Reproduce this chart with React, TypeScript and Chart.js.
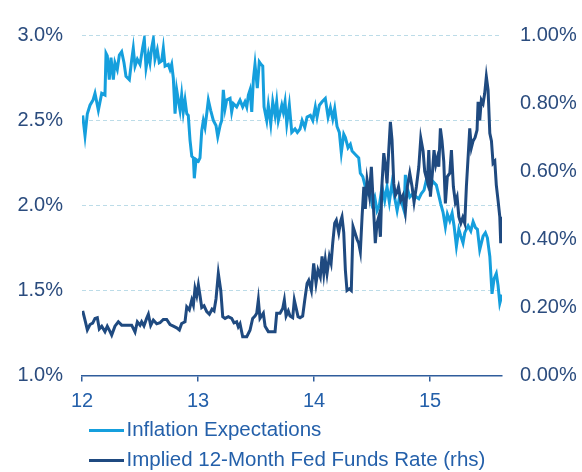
import React, { useEffect, useRef } from "react";
import { Chart, registerables } from "chart.js";

Chart.register(...registerables);

// ---- Data (decimal year, value in %) ----
const inflYears = [
  12.006, 12.026, 12.046, 12.069, 12.095, 12.112, 12.141, 12.17, 12.198, 12.207, 12.218, 12.235, 12.25, 12.27,
  12.284, 12.304, 12.322, 12.342, 12.362, 12.379, 12.408, 12.428, 12.442, 12.457, 12.477, 12.5, 12.523, 12.537,
  12.552, 12.572, 12.586, 12.601, 12.615, 12.629, 12.649, 12.666, 12.687, 12.701, 12.716, 12.744, 12.759, 12.773,
  12.787, 12.802, 12.816, 12.83, 12.845, 12.859, 12.873, 12.888, 12.903, 12.916, 12.931, 12.946, 12.96, 12.968,
  12.983, 13.003, 13.017, 13.032, 13.046, 13.06, 13.075, 13.089, 13.109, 13.132, 13.155, 13.17, 13.19, 13.204,
  13.218, 13.233, 13.247, 13.276, 13.29, 13.304, 13.333, 13.362, 13.385, 13.405, 13.42, 13.434, 13.448, 13.463,
  13.477, 13.491, 13.511, 13.528, 13.543, 13.558, 13.569, 13.592, 13.606, 13.627, 13.644, 13.664, 13.678, 13.692,
  13.722, 13.735, 13.75, 13.765, 13.787, 13.808, 13.836, 13.856, 13.879, 13.897, 13.92, 13.94, 13.968, 13.989,
  14.011, 14.026, 14.046, 14.069, 14.097, 14.121, 14.141, 14.161, 14.178, 14.198, 14.218, 14.235, 14.256, 14.27,
  14.293, 14.313, 14.328, 14.356, 14.385, 14.399, 14.42, 14.442, 14.457, 14.48, 14.5, 14.523, 14.543, 14.563,
  14.586, 14.609, 14.629, 14.649, 14.672, 14.694, 14.716, 14.737, 14.759, 14.776, 14.787, 14.804, 14.825, 14.853,
  14.882, 14.903, 14.925, 14.948, 14.968, 14.997, 15.026, 15.054, 15.075, 15.092, 15.112, 15.132, 15.149, 15.17,
  15.19, 15.207, 15.227, 15.248, 15.265, 15.284, 15.299, 15.328, 15.351, 15.371, 15.391, 15.408, 15.428, 15.457,
  15.477, 15.494, 15.515, 15.534, 15.552, 15.571, 15.586, 15.601, 15.62,
];
const inflValues = [
  2.53, 2.41, 2.54, 2.59, 2.62, 2.66, 2.56, 2.66, 2.65, 2.895, 2.88, 2.74, 2.87, 2.74,
  2.84, 2.8, 2.885, 2.905, 2.84, 2.76, 2.74, 2.855, 2.925, 2.82, 2.86, 2.83, 2.93, 2.98,
  2.81, 2.89, 2.84, 2.93, 2.98, 2.86, 2.915, 2.84, 2.85, 2.925, 2.82, 2.83, 2.8, 2.83,
  2.75, 2.54, 2.68, 2.62, 2.56, 2.65, 2.55, 2.62, 2.54, 2.53, 2.385, 2.29, 2.28, 2.16,
  2.27, 2.26, 2.28, 2.44, 2.5, 2.46, 2.54, 2.62, 2.56, 2.5, 2.47, 2.405, 2.47, 2.5,
  2.68, 2.57, 2.62, 2.63, 2.55, 2.6, 2.58, 2.62, 2.58, 2.61, 2.58, 2.65, 2.68, 2.55,
  2.74, 2.83, 2.69, 2.845, 2.83, 2.82, 2.58, 2.5, 2.59, 2.48, 2.61, 2.53, 2.61, 2.5,
  2.59, 2.55, 2.61, 2.48, 2.59, 2.43, 2.45, 2.43, 2.45, 2.5, 2.46, 2.52, 2.53, 2.5,
  2.58, 2.52, 2.59, 2.61, 2.63, 2.52, 2.575, 2.51, 2.57, 2.465, 2.43, 2.31, 2.42, 2.4,
  2.34, 2.36, 2.32, 2.3, 2.28, 2.19, 2.17, 2.11, 2.07, 2.1, 2.01, 2.05, 1.97, 2.0,
  2.11, 2.03, 2.11, 2.02, 2.13, 2.05, 1.97, 2.05, 2.01, 1.97, 2.18, 2.1, 2.05, 2.07,
  2.05, 2.04, 2.07, 2.09, 2.15, 2.1, 2.14, 2.12, 2.06, 2.01, 1.96, 1.875, 1.95, 1.91,
  1.955, 1.88, 1.76, 1.86, 1.82, 1.78, 1.84, 1.88, 1.85, 1.905, 1.87, 1.86, 1.74, 1.82,
  1.84, 1.81, 1.7, 1.48, 1.57, 1.6, 1.53, 1.425, 1.475,
];

const fedYears = [
  12.006, 12.026, 12.046, 12.069, 12.092, 12.112, 12.132, 12.149, 12.17, 12.198, 12.218, 12.241, 12.256, 12.284,
  12.313, 12.342, 12.385, 12.428, 12.457, 12.477, 12.5, 12.514, 12.534, 12.557, 12.572, 12.592, 12.615, 12.644,
  12.672, 12.701, 12.73, 12.759, 12.787, 12.816, 12.839, 12.859, 12.888, 12.903, 12.925, 12.946, 12.96, 12.974,
  12.989, 13.003, 13.017, 13.032, 13.052, 13.075, 13.098, 13.121, 13.138, 13.155, 13.175, 13.196, 13.213, 13.233,
  13.261, 13.29, 13.31, 13.333, 13.347, 13.362, 13.385, 13.42, 13.448, 13.471, 13.491, 13.506, 13.52, 13.534,
  13.563, 13.578, 13.606, 13.635, 13.664, 13.678, 13.707, 13.73, 13.744, 13.759, 13.778, 13.793, 13.816, 13.83,
  13.851, 13.862, 13.879, 13.902, 13.92, 13.94, 13.954, 13.977, 13.997, 14.017, 14.034, 14.054, 14.069, 14.084,
  14.097, 14.112, 14.132, 14.147, 14.161, 14.178, 14.192, 14.213, 14.23, 14.241, 14.256, 14.27, 14.284, 14.304,
  14.321, 14.336, 14.353, 14.371, 14.385, 14.399, 14.414, 14.429, 14.442, 14.457, 14.477, 14.494, 14.509, 14.528,
  14.543, 14.558, 14.572, 14.586, 14.601, 14.615, 14.629, 14.644, 14.658, 14.672, 14.687, 14.701, 14.716, 14.728,
  14.747, 14.767, 14.787, 14.804, 14.825, 14.845, 14.862, 14.882, 14.903, 14.92, 14.94, 14.954, 14.977, 14.989,
  15.003, 15.02, 15.034, 15.049, 15.063, 15.075, 15.089, 15.103, 15.118, 15.132, 15.149, 15.17, 15.184, 15.201,
  15.218, 15.233, 15.248, 15.265, 15.282, 15.299, 15.313, 15.328, 15.342, 15.356, 15.371, 15.388, 15.405, 15.414,
  15.428, 15.442, 15.457, 15.471, 15.485, 15.5, 15.515, 15.529, 15.543, 15.558, 15.571, 15.586, 15.601, 15.609,
  15.62,
];
const fedValues = [
  0.19, 0.163, 0.134, 0.15, 0.154, 0.168, 0.17, 0.137, 0.145, 0.129, 0.145, 0.13, 0.119, 0.145,
  0.158, 0.148, 0.148, 0.148, 0.128, 0.158, 0.148, 0.158, 0.146, 0.168, 0.18, 0.147, 0.163, 0.152,
  0.155, 0.165, 0.165, 0.15, 0.145, 0.14, 0.134, 0.153, 0.158, 0.202, 0.193, 0.222, 0.207, 0.256,
  0.235, 0.266, 0.235, 0.2, 0.205, 0.188, 0.18, 0.195, 0.19, 0.225, 0.3, 0.25, 0.173, 0.168,
  0.173, 0.168, 0.155, 0.158, 0.143, 0.152, 0.114, 0.114, 0.133, 0.168, 0.175, 0.183, 0.222, 0.168,
  0.183, 0.145, 0.129, 0.129, 0.129, 0.183, 0.183, 0.197, 0.222, 0.175, 0.19, 0.175, 0.17, 0.222,
  0.19, 0.173, 0.17, 0.175, 0.222, 0.271, 0.28, 0.25, 0.33, 0.271, 0.31, 0.29, 0.35, 0.3,
  0.34, 0.3, 0.35, 0.33, 0.389, 0.448, 0.457, 0.42, 0.455, 0.467, 0.42, 0.31, 0.25, 0.255,
  0.25, 0.438, 0.42, 0.4, 0.389, 0.364, 0.467, 0.555, 0.49, 0.575, 0.53, 0.614, 0.515, 0.389,
  0.448, 0.467, 0.408, 0.565, 0.654, 0.62, 0.565, 0.663, 0.746, 0.693, 0.565, 0.53, 0.54, 0.555,
  0.515, 0.53, 0.482, 0.555, 0.595, 0.555, 0.51, 0.555, 0.614, 0.698, 0.66, 0.6, 0.57, 0.663,
  0.526, 0.595, 0.663, 0.62, 0.64, 0.614, 0.727, 0.69, 0.63, 0.506, 0.585, 0.595, 0.663, 0.555,
  0.51, 0.525, 0.467, 0.448, 0.465, 0.448, 0.555, 0.643, 0.727, 0.67, 0.69, 0.7, 0.722, 0.805,
  0.75, 0.81, 0.8, 0.83, 0.879, 0.84, 0.712, 0.69, 0.624, 0.63, 0.56, 0.515, 0.467, 0.389,
  0.467,
];

const seriesNames = ["Inflation Expectations", "Implied 12-Month Fed Funds Rate (rhs)"];
const xTickValues = [12, 13, 14, 15];
const xRange = [12, 15.62];
const leftRange = [1.0, 3.0];
const rightRange = [0.0, 1.0];

const LIGHT = "#159fdd";
const NAVY = "#1f4a80";
const FONT = "'Liberation Sans', Arial, sans-serif";

const lineLegend = {
  id: "lineLegend",
  afterDraw(chart: any) {
    const { ctx, chartArea } = chart;
    const colors = [LIGHT, NAVY];
    ctx.save();
    ctx.font = `20.5px ${FONT}`;
    ctx.textBaseline = "middle";
    ctx.textAlign = "left";
    seriesNames.forEach((name, i) => {
      const y = chartArea.bottom + 55 + i * 30;
      const x0 = chartArea.left + 7;
      ctx.strokeStyle = colors[i];
      ctx.lineWidth = 2.8;
      ctx.beginPath();
      ctx.moveTo(x0, y);
      ctx.lineTo(x0 + 35, y);
      ctx.stroke();
      ctx.fillStyle = "#2460aa";
      ctx.fillText(name, x0 + 37.5, y);
    });
    ctx.restore();
  },
};

export default function App() {
  const ref = useRef<HTMLCanvasElement | null>(null);

  useEffect(() => {
    if (!ref.current) return;
    const chart = new Chart(ref.current, {
      type: "line",
      data: {
        datasets: [
          {
            label: seriesNames[0],
            data: inflYears.map((x, i) => ({ x, y: inflValues[i] })),
            yAxisID: "y",
            borderColor: LIGHT,
            borderWidth: 3,
            pointRadius: 0,
            tension: 0,
            order: 1,
          },
          {
            label: seriesNames[1],
            data: fedYears.map((x, i) => ({ x, y: fedValues[i] })),
            yAxisID: "y1",
            borderColor: NAVY,
            borderWidth: 3,
            pointRadius: 0,
            tension: 0,
            order: 0,
          },
        ],
      },
      options: {
        animation: false,
        responsive: true,
        maintainAspectRatio: false,
        layout: { padding: { top: 35.5, bottom: 56.5, left: 0, right: 0 } },
        plugins: { legend: { display: false }, tooltip: { enabled: false } },
        scales: {
          x: {
            type: "linear",
            min: xRange[0],
            max: xRange[1],
            afterBuildTicks: (scale: any) => {
              scale.ticks = xTickValues.map((v) => ({ value: v }));
            },
            afterFit: (scale: any) => {
              scale.height = 40;
            },
            ticks: {
              callback: (v: any) => String(v),
              color: "#2460aa",
              font: { family: FONT, size: 20 },
              padding: 7.5,
              maxRotation: 0,
            },
            grid: {
              drawOnChartArea: false,
              drawTicks: true,
              tickLength: 6,
              color: "#2f5d9c",
              lineWidth: 1.5,
            },
            border: { display: true, color: "#2f5d9c", width: 1.5 },
          },
          y: {
            type: "linear",
            position: "left",
            min: leftRange[0],
            max: leftRange[1],
            afterFit: (scale: any) => {
              scale.width = 82;
            },
            ticks: {
              stepSize: 0.5,
              callback: (v: any) => Number(v).toFixed(1) + "%",
              color: "#2b4c7e",
              font: { family: FONT, size: 20 },
              padding: 19,
            },
            grid: { color: "#bcdce8", lineWidth: 1, drawTicks: false },
            border: { display: false, dash: [4, 3] },
          },
          y1: {
            type: "linear",
            position: "right",
            min: rightRange[0],
            max: rightRange[1],
            afterFit: (scale: any) => {
              scale.width = 80;
            },
            ticks: {
              stepSize: 0.2,
              callback: (v: any) => Number(v).toFixed(2) + "%",
              color: "#2b4c7e",
              font: { family: FONT, size: 20 },
              padding: 18,
            },
            grid: { drawOnChartArea: false, drawTicks: false },
            border: { display: false },
          },
        },
      },
      plugins: [lineLegend],
    });
    return () => chart.destroy();
  }, []);

  return (
    <div style={{ position: "fixed", left: 0, top: 0, width: 582, height: 472, background: "#fff" }}>
      <canvas ref={ref} />
    </div>
  );
}
